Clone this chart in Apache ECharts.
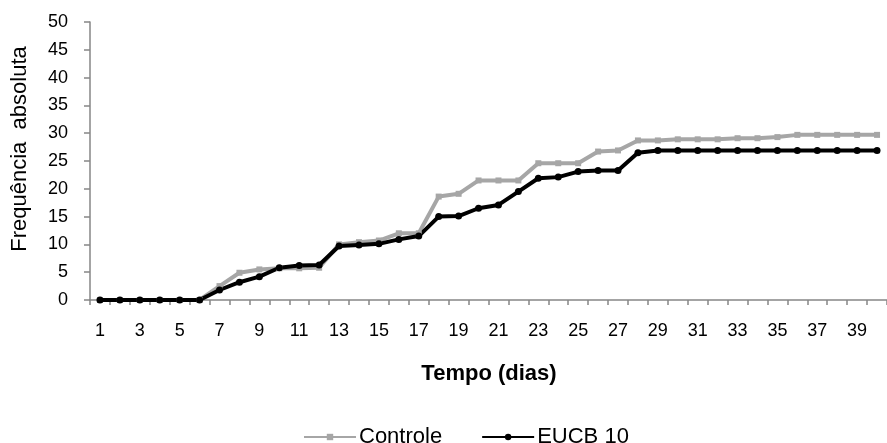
<!DOCTYPE html>
<html>
<head>
<meta charset="utf-8">
<script src="https://cdn.jsdelivr.net/npm/echarts@6/dist/echarts.min.js"></script>
<style>
  html, body { margin: 0; padding: 0; background: #fff; }
  #chart { width: 887px; height: 443px; }
</style>
</head>
<body>
<div id="chart"></div>
<script>
// Days of observation
const days = Array.from({ length: 40 }, (_, i) => String(i + 1));

// Cumulative absolute frequency per day
const controle = [0, 0, 0, 0, 0, 0, 2.5, 4.9, 5.5, 5.7,
  5.7, 5.8, 10.0, 10.4, 10.7, 12.0, 12.0, 18.6, 19.1, 21.5,
  21.5, 21.5, 24.6, 24.6, 24.6, 26.7, 26.9, 28.7, 28.7, 28.9,
  28.9, 28.9, 29.1, 29.1, 29.3, 29.7, 29.7, 29.7, 29.7, 29.7];

const eucb10 = [0, 0, 0, 0, 0, 0, 1.8, 3.2, 4.2, 5.8,
  6.2, 6.3, 9.7, 9.9, 10.1, 10.9, 11.5, 15.0, 15.1, 16.5,
  17.1, 19.5, 21.9, 22.1, 23.1, 23.3, 23.3, 26.5, 26.9, 26.9,
  26.9, 26.9, 26.9, 26.9, 26.9, 26.9, 26.9, 26.9, 26.9, 26.9];

const yTicks = { min: 0, max: 50, interval: 5 };

const FONT = "'Liberation Sans', Arial, sans-serif";
const AXIS_GRAY = '#868686';

const chart = echarts.init(document.getElementById('chart'), null, { renderer: 'canvas' });

chart.setOption({
  animation: false,
  backgroundColor: '#ffffff',
  textStyle: { fontFamily: FONT },
  grid: { left: 90, top: 22, bottom: 143, right: -7, containLabel: false },
  title: {
    text: 'Tempo (dias)',
    left: 484,
    top: 358,
    textAlign: 'center',
    textStyle: { fontFamily: FONT, fontSize: 22, fontWeight: 'bold', color: '#000' }
  },
  graphic: [{
    type: 'text',
    x: 20,
    y: 149,
    rotation: Math.PI / 2,
    style: {
      text: 'Frequência  absoluta',
      font: "22px 'Liberation Sans', Arial, sans-serif",
      fill: '#000',
      textAlign: 'center',
      textVerticalAlign: 'middle'
    }
  }],
  legend: {
    left: 303,
    top: 426,
    itemWidth: 52,
    itemHeight: 8,
    itemGap: 39,
    padding: 0,
    textStyle: { fontFamily: FONT, fontSize: 22, color: '#000', padding: [0, 0, 6, -2] },
    data: ['Controle', 'EUCB 10']
  },
  xAxis: {
    type: 'category',
    data: days,
    boundaryGap: true,
    axisLine: { lineStyle: { color: AXIS_GRAY, width: 1.5 } },
    axisTick: { show: true, interval: 0, length: 5, lineStyle: { color: AXIS_GRAY, width: 1.5 } },
    axisLabel: { interval: 1, margin: 22, fontSize: 18, color: '#000', fontFamily: FONT },
    splitLine: { show: false }
  },
  yAxis: {
    type: 'value',
    min: yTicks.min,
    max: yTicks.max,
    interval: yTicks.interval,
    axisLine: { show: true, lineStyle: { color: AXIS_GRAY, width: 1.5 } },
    axisTick: { show: true, length: 6, lineStyle: { color: AXIS_GRAY, width: 1.5 } },
    axisLabel: { margin: 22, fontSize: 18, color: '#000', fontFamily: FONT },
    splitLine: { show: false }
  },
  series: [
    {
      name: 'Controle',
      type: 'line',
      data: controle,
      symbol: 'rect',
      symbolSize: 6,
      showAllSymbol: true,
      itemStyle: { color: '#A6A6A6' },
      lineStyle: { color: '#A6A6A6', width: 4 }
    },
    {
      name: 'EUCB 10',
      type: 'line',
      data: eucb10,
      symbol: 'circle',
      symbolSize: 7,
      showAllSymbol: true,
      itemStyle: { color: '#000000' },
      lineStyle: { color: '#000000', width: 4 }
    }
  ]
});
</script>
</body>
</html>
